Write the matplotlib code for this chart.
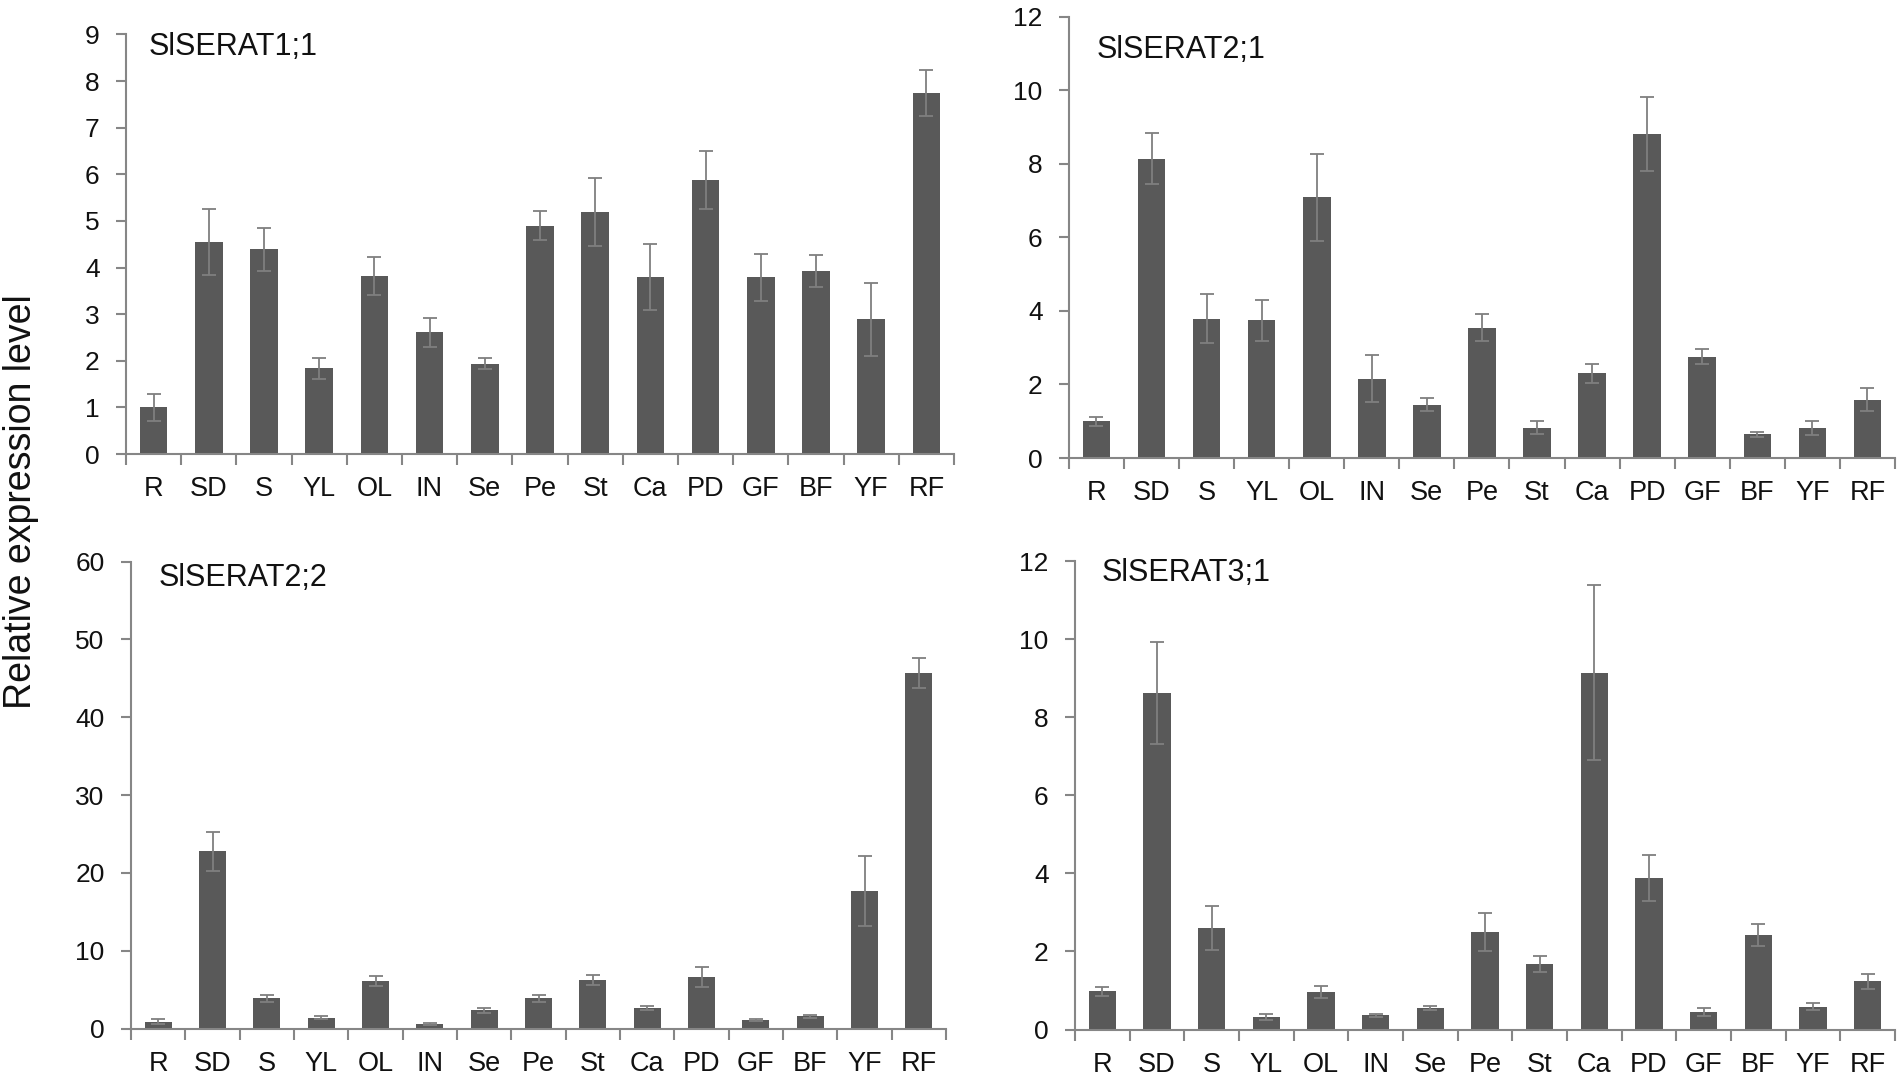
"""Relative expression of SlSERAT genes across tissues (four bar panels)."""
import matplotlib
matplotlib.use("Agg")
import matplotlib.pyplot as plt
import numpy as np

plt.rcParams["font.family"] = ["Liberation Sans", "DejaVu Sans"]

_BAR = "#595959"
_ERR = "#7f7f7f"
_AXIS = "#868686"

tissues = ["R", "SD", "S", "YL", "OL", "IN", "Se", "Pe", "St", "Ca",
           "PD", "GF", "BF", "YF", "RF"]

serat11 = [1.0, 4.54, 4.39, 1.84, 3.82, 2.61, 1.94, 4.90, 5.19, 3.80,
           5.88, 3.79, 3.92, 2.89, 7.75]
serat11_err = [0.28, 0.71, 0.46, 0.22, 0.41, 0.31, 0.12, 0.31, 0.73, 0.70,
               0.62, 0.51, 0.34, 0.78, 0.49]

serat21 = [1.0, 8.14, 3.79, 3.74, 7.09, 2.16, 1.45, 3.54, 0.83, 2.30,
           8.81, 2.76, 0.65, 0.81, 1.59]
serat21_err = [0.12, 0.69, 0.66, 0.55, 1.18, 0.65, 0.18, 0.37, 0.17, 0.27,
               1.00, 0.21, 0.07, 0.19, 0.32]

serat22 = [0.88, 22.77, 3.89, 1.37, 6.06, 0.62, 2.34, 3.89, 6.23, 2.65,
           6.59, 1.10, 1.55, 17.73, 45.67]
serat22_err = [0.35, 2.50, 0.45, 0.20, 0.65, 0.13, 0.30, 0.45, 0.65, 0.22,
               1.30, 0.13, 0.20, 4.50, 1.95]

serat31 = [0.98, 8.62, 2.60, 0.33, 0.97, 0.36, 0.55, 2.50, 1.68, 9.14,
           3.88, 0.44, 2.42, 0.58, 1.23]
serat31_err = [0.11, 1.30, 0.57, 0.08, 0.15, 0.04, 0.05, 0.48, 0.20, 2.24,
               0.59, 0.10, 0.29, 0.09, 0.20]

panels = [
    # name, values, errors, ymax, ystep, axes rect, title pos (axes fraction)
    ("SlSERAT1;1", serat11, serat11_err, 9, 1, [0.0662, 0.578, 0.4354, 0.390], (0.028, 0.950)),
    ("SlSERAT2;1", serat21, serat21_err, 12, 2, [0.5620, 0.5743, 0.4343, 0.4103], (0.033, 0.907)),
    ("SlSERAT2;2", serat22, serat22_err, 60, 10, [0.0689, 0.0441, 0.4285, 0.4339], (0.034, 0.948)),
    ("SlSERAT3;1", serat31, serat31_err, 12, 2, [0.5652, 0.0432, 0.4311, 0.4354], (0.033, 0.957)),
]


def _style(ax, ymax, ystep):
    for side in ("top", "right"):
        ax.spines[side].set_visible(False)
    for side in ("left", "bottom"):
        ax.spines[side].set_color(_AXIS)
        ax.spines[side].set_linewidth(1.5)
    ax.set_xlim(-0.5, len(tissues) - 0.5)
    ax.set_ylim(0, ymax)
    ax.set_yticks(np.arange(0, ymax + ystep / 2, ystep))
    ax.tick_params(axis="y", direction="out", length=7, width=1.5,
                   color=_AXIS, labelsize=19, pad=12, labelcolor="#111111")
    # boundary ticks on the x axis, labels sit between them
    ax.set_xticks(np.arange(-0.5, len(tissues), 1.0))
    ax.set_xticklabels([])
    ax.tick_params(axis="x", which="major", direction="out", length=8,
                   width=1.5, color=_AXIS)
    ax.set_xticks(np.arange(len(tissues)), minor=True)
    ax.set_xticklabels(tissues, minor=True)
    ax.tick_params(axis="x", which="minor", length=0, labelsize=19.5,
                   pad=16, labelcolor="#111111")


fig = plt.figure(figsize=(19.02, 10.76), dpi=100, facecolor="white")

for name, vals, errs, ymax, ystep, rect, tpos in panels:
    ax = fig.add_axes(rect)
    x = np.arange(len(tissues))
    ax.bar(x, vals, width=0.5, color=_BAR, zorder=2)
    ax.errorbar(x, vals, yerr=errs, fmt="none", ecolor=_ERR,
                elinewidth=1.3, capsize=5, capthick=1.3, zorder=3)
    _style(ax, ymax, ystep)
    ax.text(tpos[0], tpos[1], name, transform=ax.transAxes, fontsize=22,
            ha="left", va="baseline", color="#111111")

fig.text(21 / 1902, 1 - 502 / 1076, "Relative expression level", rotation=90,
         ha="center", va="center", fontsize=27, color="#111111")

fig.savefig("out.png", dpi=100, facecolor="white")
